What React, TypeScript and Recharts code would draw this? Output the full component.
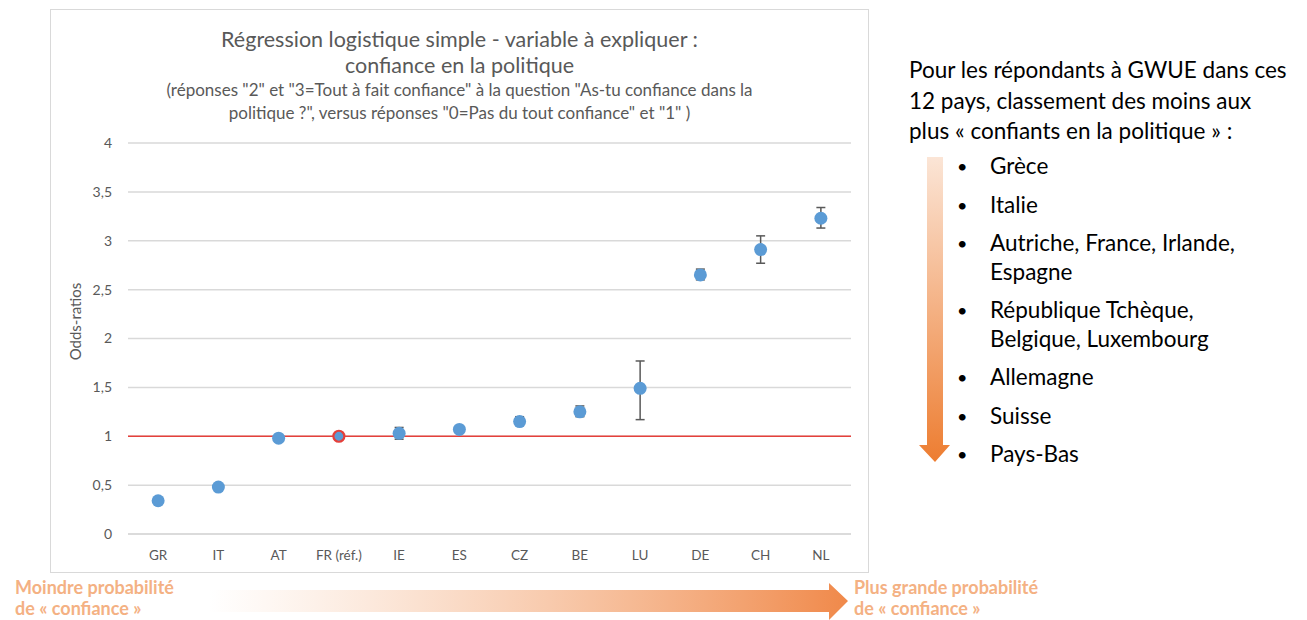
import React from 'react'
import {
  ComposedChart,
  Scatter,
  XAxis,
  YAxis,
  CartesianGrid,
  ReferenceLine,
  ErrorBar,
} from 'recharts'

// Pays (ordre du graphique) et odds-ratios
const countries = ['GR', 'IT', 'AT', 'FR (réf.)', 'IE', 'ES', 'CZ', 'BE', 'LU', 'DE', 'CH', 'NL']
const oddsRatios = [0.34, 0.48, 0.98, 1.0, 1.03, 1.07, 1.15, 1.25, 1.49, 2.65, 2.91, 3.23]
const ciLow = [0.34, 0.48, 0.95, 1.0, 0.97, 1.05, 1.13, 1.2, 1.17, 2.6, 2.77, 3.13]
const ciHigh = [0.34, 0.48, 1.01, 1.0, 1.09, 1.09, 1.2, 1.31, 1.77, 2.71, 3.05, 3.34]
const yTicks = [0, 0.5, 1, 1.5, 2, 2.5, 3, 3.5, 4]

const ranking = [
  ['Grèce'],
  ['Italie'],
  ['Autriche, France, Irlande,', 'Espagne'],
  ['République Tchèque,', 'Belgique, Luxembourg'],
  ['Allemagne'],
  ['Suisse'],
  ['Pays-Bas'],
]

const REF = 'FR (réf.)'
const BLUE = '#5B9BD5'
const RED = '#E5403B'
const GREY = '#595959'
const ORANGE_TXT = '#F4B183'
const FONT = 'Lato, "Open Sans", sans-serif'

const data = countries.map((c, i) => ({
  idx: i,
  country: c,
  value: oddsRatios[i],
  err: [oddsRatios[i] - ciLow[i], ciHigh[i] - oddsRatios[i]],
}))
const xTicks = countries.map((_, i) => i)

const fmt = (v: number) => String(v).replace('.', ',')

function Dot(props: any) {
  const isRef = props.payload?.country === REF
  return (
    <circle
      cx={props.cx}
      cy={props.cy}
      r={isRef ? 5.5 : 6.5}
      fill={BLUE}
      stroke={isRef ? RED : 'none'}
      strokeWidth={isRef ? 2.2 : 0}
    />
  )
}

function YLabel({ viewBox }: any) {
  const x = viewBox.x + 25
  const y = viewBox.y + viewBox.height / 2 - 17
  return (
    <text
      x={x}
      y={y}
      transform={`rotate(-90 ${x} ${y})`}
      textAnchor="middle"
      dominantBaseline="central"
      fill={GREY}
      fontSize={15}
      fontFamily={FONT}
    >
      Odds-ratios
    </text>
  )
}

export default function App() {
  return (
    <div style={{ position: 'absolute', left: 0, top: 0, width: 1307, height: 620, background: '#fff', fontFamily: FONT, overflow: 'hidden' }}>
      {/* cadre du graphique */}
      <div style={{ position: 'absolute', left: 50, top: 9, width: 817, height: 562, border: '1.5px solid #d9d9d9' }} />

      {/* titre */}
      <div style={{ position: 'absolute', left: 50, width: 819, top: 26, textAlign: 'center', color: GREY, fontSize: 21.5, lineHeight: '26px' }}>
        <div>Régression logistique simple - variable à expliquer :</div>
        <div>confiance en la politique</div>
      </div>
      <div style={{ position: 'absolute', left: 50, width: 819, top: 79, textAlign: 'center', color: GREY, fontSize: 17, lineHeight: '22.5px' }}>
        <div>(réponses "2" et "3=Tout à fait confiance" à la question "As-tu confiance dans la</div>
        <div>politique ?", versus réponses "0=Pas du tout confiance" et "1" )</div>
      </div>

      <div style={{ position: 'absolute', left: 50, top: 9 }}>
        <ComposedChart
          width={819}
          height={564}
          data={data}
          margin={{ top: 134, right: 18, bottom: 9, left: 0 }}
        >
          <CartesianGrid vertical={false} stroke="#d9d9d9" strokeWidth={1.5} />
          <XAxis
            dataKey="idx"
            type="number"
            domain={[-0.5, countries.length - 0.5]}
            ticks={xTicks}
            tickFormatter={(i: number) => countries[i]}
            axisLine={{ stroke: '#d9d9d9', strokeWidth: 1.5 }}
            tickLine={false}
            height={30}
            tickMargin={10}
            tick={{ fill: GREY, fontSize: 13.5, fontFamily: FONT }}
            interval={0}
          />
          <YAxis
            type="number"
            domain={[0, 4]}
            ticks={yTicks}
            tickFormatter={fmt}
            width={78}
            axisLine={false}
            tickLine={false}
            tickMargin={10}
            tick={{ fill: GREY, fontSize: 14, fontFamily: FONT }}
            label={{ content: YLabel }}
          />
          <ReferenceLine y={1} stroke={RED} strokeWidth={1.5} />
          <Scatter dataKey="value" shape={Dot} isAnimationActive={false}>
            <ErrorBar dataKey="err" direction="y" width={4.5} stroke="#595959" strokeWidth={1.5} />
          </Scatter>
        </ComposedChart>
      </div>

      {/* flèches */}
      <svg style={{ position: 'absolute', left: 0, top: 0 }} width={1307} height={620}>
        <defs>
          <linearGradient id="gh" x1="0" y1="0" x2="1" y2="0">
            <stop offset="0" stopColor="#F4B183" stopOpacity={0} />
            <stop offset="1" stopColor="#F0894A" stopOpacity={1} />
          </linearGradient>
          <linearGradient id="gv" x1="0" y1="0" x2="0" y2="1">
            <stop offset="0" stopColor="#FBE5D6" />
            <stop offset="1" stopColor="#ED7D31" />
          </linearGradient>
        </defs>
        <polygon points="209,590 829,590 829,583 848,601 829,620 829,612 209,612" fill="url(#gh)" />
        <polygon points="927,157 943,157 943,445 950,445 935,462 919,445 927,445" fill="url(#gv)" />
      </svg>

      <div style={{ position: 'absolute', left: 15, top: 577, color: ORANGE_TXT, fontWeight: 700, fontSize: 18, lineHeight: '21px' }}>
        <div>Moindre probabilité</div>
        <div>de « confiance »</div>
      </div>
      <div style={{ position: 'absolute', left: 854, top: 577, color: ORANGE_TXT, fontWeight: 700, fontSize: 18, lineHeight: '21px' }}>
        <div>Plus grande probabilité</div>
        <div>de « confiance »</div>
      </div>

      {/* texte de droite */}
      <div style={{ position: 'absolute', left: 909, top: 55, color: '#000', fontSize: 22.5, lineHeight: '30.5px' }}>
        <div>Pour les répondants à GWUE dans ces</div>
        <div>12 pays, classement des moins aux</div>
        <div>plus « confiants en la politique » :</div>
      </div>
      <div style={{ position: 'absolute', left: 957, top: 152, color: '#000', fontSize: 22.5, lineHeight: '28.5px' }}>
        {ranking.map((item, i) => (
          <div key={i} style={{ display: 'flex', marginBottom: 10 }}>
            <div style={{ width: 33, fontSize: 18 }}>•</div>
            <div>
              {item.map((l, j) => (
                <div key={j}>{l}</div>
              ))}
            </div>
          </div>
        ))}
      </div>
    </div>
  )
}
